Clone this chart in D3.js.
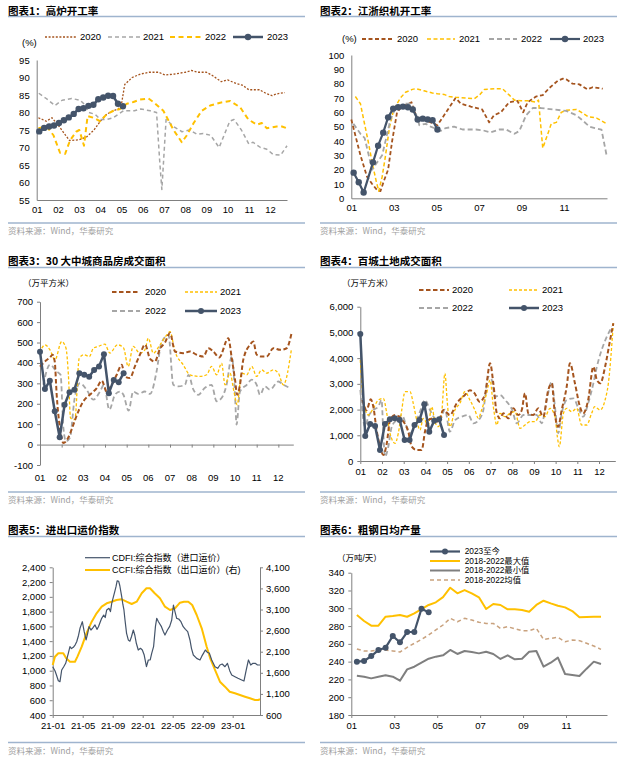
<!DOCTYPE html>
<html><head><meta charset="utf-8">
<script src="https://cdn.jsdelivr.net/npm/d3@7"></script>
<style>body{margin:0;background:#fff}svg{display:block}</style>
</head><body><script>
// ---------------- DATA ----------------
// Panel 1: blast furnace utilisation (%), [month position (0 = Jan 1), value]
const bf2020 = [[0.08,78.5],[0.45,77.5],[0.72,78.5],[1.0,76.5],[1.3,74],[1.55,72],[2.0,72.2],[2.35,73],[2.7,75],[3.0,77.5],[3.3,79.5],[3.6,80.5],[3.85,81],[4.0,82.5],[4.15,88],[4.5,90],[4.9,91],[5.3,91.5],[5.75,91.5],[6.05,90.7],[6.5,91],[7.0,91.5],[7.3,92],[7.6,91.5],[8.0,91.5],[8.3,90.5],[8.7,88.8],[9.0,89.3],[9.4,88.3],[9.7,87.8],[10.0,86.5],[10.5,86.5],[10.8,85.5],[11.1,84.8],[11.3,85.3],[11.7,85.7]];
const bf2021 = [[0.1,85.5],[0.45,84],[0.86,82],[1.2,83.5],[1.65,84],[2.05,83.5],[2.3,82],[2.45,80],[2.75,79.5],[3.0,78],[3.3,78],[3.6,78.5],[3.85,79.5],[4.1,80.5],[4.6,80.5],[4.9,81],[5.35,80.5],[5.65,80],[5.8,66],[5.9,58],[6.0,68],[6.1,78],[6.45,76],[6.85,74.5],[7.2,75],[7.55,73.8],[7.85,74],[8.2,73.5],[8.6,70],[9.1,77.5],[9.3,78],[9.65,75],[10.0,71],[10.2,71.5],[10.55,70],[10.85,69.5],[11.15,68],[11.5,67.8],[11.8,70.5]];
const bf2022 = [[0.08,75.5],[0.47,76],[0.79,73.5],[1.1,68.5],[1.34,68.2],[1.57,72],[1.86,74.5],[2.01,75],[2.23,70.5],[2.4,79],[2.67,78.5],[2.99,77.5],[3.3,79.5],[3.62,80.5],[3.93,81],[4.25,82.5],[4.56,83],[4.87,83.7],[5.27,84],[5.5,83],[5.97,80.5],[6.45,75],[6.84,71.5],[7.08,73.5],[7.4,77],[7.78,80.5],[8.18,82],[8.65,82.8],[9.12,83.3],[9.59,81.5],[9.98,78],[10.38,76.5],[10.61,77],[10.85,75.5],[11.32,76],[11.56,76],[11.79,75.5]];
const bf2023 = [74.6,75.6,76.0,76.3,77.0,77.8,78.6,79.6,81.0,81.2,81.9,82.2,83.8,84.3,84.8,84.7,82.5,81.8];
const bf2023Start = 0.12, weekStep = 0.232;
const monthLabels = ["01","02","03","04","05","06","07","08","09","10","11","12"];

// Panel 2: Jiangsu-Zhejiang loom utilisation (%)
const loom2020 = [[0,55],[0.43,30],[0.74,15],[0.98,10],[1.2,6],[1.37,5],[1.53,12],[1.73,20],[1.92,40],[2.15,60],[2.32,63],[2.55,65],[2.7,66],[2.83,67],[3.1,55],[3.42,55],[3.73,53],[4.05,51],[4.9,70],[5.15,66],[5.62,64],[6.15,62],[6.48,53],[6.71,58],[7.03,60],[7.42,67],[7.81,68],[8.08,60],[8.29,67],[8.68,71],[9.0,72],[9.31,77],[9.7,82],[9.95,83.5],[10.1,83],[10.4,80],[10.72,79.5],[11.1,76],[11.35,77.5],[11.82,76.5]];
const loom2021 = [[0.19,71],[0.43,66],[0.58,55],[0.79,40],[0.98,25],[1.17,12],[1.29,5],[1.45,15],[1.61,30],[1.8,50],[2.0,62],[2.31,70],[2.55,74],[2.87,76],[3.02,76.5],[3.42,75],[3.81,73.5],[4.05,73],[4.36,72.5],[4.6,71],[4.91,70.5],[5.39,70],[5.78,69.5],[6.02,72],[6.25,76],[6.72,76.5],[7.1,76.5],[7.43,72],[7.67,68.5],[7.98,68],[8.37,68],[8.68,67],[8.8,68.5],[9.0,35],[9.24,45],[9.4,52],[9.64,53],[9.87,60],[10.1,61.5],[10.58,62],[10.82,60],[11.13,57],[11.53,56],[12.0,52]];
const loom2022 = [[0.1,52],[0.43,45],[0.63,42],[0.82,30],[0.98,20],[1.21,25],[1.45,30],[1.64,42],[1.84,55],[2.05,62],[2.31,64],[2.55,66],[2.8,66],[3.02,60],[3.2,51],[3.5,52],[3.73,50],[4.05,48],[4.2,47],[4.44,49],[4.83,50],[5.23,48],[5.86,48],[6.17,47.5],[6.55,46],[6.95,48],[7.27,48],[7.67,45],[7.9,47],[8.22,58],[8.53,63],[8.92,63],[9.48,62],[10.1,61],[10.58,58],[10.82,55],[11.2,50],[11.45,49],[11.76,48],[12.0,30]];
const loom2023 = [[0.11,17.9],[0.35,11.2],[0.58,4],[1.02,25.1],[1.26,36.7],[1.5,45.8],[1.73,56.5],[1.97,62.6],[2.2,63.5],[2.43,64],[2.66,63.5],[2.89,62],[3.12,55],[3.36,55.6],[3.59,55],[3.82,54.5],[4.05,48]];
const oddMonthLabels = ["01","03","05","07","09","11"];

// Panel 3: 30 cities commercial housing sales area (10k m2)
const house2020 = [[0,382],[0.23,407],[0.46,427],[0.58,440],[0.68,407],[0.77,244],[0.92,81],[1.08,8],[1.3,33],[1.54,98],[1.77,163],[2.0,212],[2.3,244],[2.62,277],[2.85,313],[3.08,260],[3.31,293],[3.54,342],[3.77,391],[3.92,334],[4.15,326],[4.38,383],[4.61,440],[4.85,490],[5.08,420],[5.3,407],[5.54,470],[5.77,500],[6.0,547],[6.23,456],[6.61,448],[6.92,456],[7.23,440],[7.54,431],[7.77,472],[8.0,456],[8.27,427],[8.69,521],[8.85,423],[9.0,318],[9.1,244],[9.23,293],[9.38,415],[9.69,489],[9.84,505],[10.0,440],[10.23,431],[10.46,431],[10.77,472],[11.08,464],[11.38,472],[11.61,546]];
const house2021 = [[0.08,472],[0.23,489],[0.46,464],[0.69,415],[1.0,505],[1.2,472],[1.31,342],[1.41,130],[1.61,122],[1.81,423],[2.03,440],[2.28,431],[2.46,472],[2.69,481],[2.99,492],[3.23,448],[3.57,489],[3.85,475],[4.07,383],[4.3,481],[4.61,448],[4.84,464],[5.0,521],[5.23,448],[5.54,489],[5.85,537],[6.0,553],[6.23,456],[6.61,391],[6.92,342],[7.38,334],[7.69,342],[7.92,383],[8.15,342],[8.38,399],[8.54,293],[8.77,350],[8.95,260],[9.1,195],[9.3,350],[9.54,342],[9.77,383],[10.0,334],[10.23,366],[10.46,350],[10.77,366],[11.0,350],[11.23,293],[11.61,472]];
const house2022 = [[0.15,293],[0.46,391],[0.77,358],[0.95,342],[1.08,81],[1.2,16],[1.38,33],[1.6,228],[1.85,301],[2.15,269],[2.46,220],[2.77,260],[2.95,293],[3.2,171],[3.46,244],[3.69,260],[3.85,244],[4.09,166],[4.3,260],[4.54,248],[4.84,260],[5.08,248],[5.38,358],[5.6,497],[5.93,537],[6.15,293],[6.38,285],[6.69,293],[6.85,342],[7.08,269],[7.3,244],[7.6,277],[7.92,293],[8.15,212],[8.38,228],[8.61,293],[8.85,431],[9.0,244],[9.07,98],[9.23,260],[9.54,293],[9.77,318],[10.0,293],[10.15,244],[10.38,285],[10.62,269],[11.0,309],[11.23,293],[11.54,277]];
const house2023 = [455,272,313,163,36,195,257,269,350,342,332,366,383,443,252,317,306,350];
const house2023Start = 0, house2023Step = 0.227;

// Panel 4: 100 cities land transaction area (10k m2)
const land2020 = [[0.1,2372],[0.29,1983],[0.48,2398],[0.6,2112],[0.75,1205],[0.91,556],[1.06,233],[1.22,688],[1.37,1594],[1.6,1788],[1.99,1528],[2.21,1140],[2.37,556],[2.6,428],[2.83,428],[2.98,1140],[3.13,1594],[3.36,1659],[3.59,1528],[3.83,1983],[4.13,1788],[4.44,2243],[4.82,2566],[5.05,2750],[5.25,2650],[5.5,2300],[5.75,2600],[5.98,3798],[6.13,3021],[6.29,1855],[6.44,1659],[6.59,1855],[6.82,1659],[7.05,2049],[7.28,1788],[7.44,1983],[7.59,2632],[7.74,1855],[7.97,1788],[8.2,2049],[8.43,1722],[8.66,2760],[8.82,3021],[8.97,1788],[9.12,1334],[9.28,1983],[9.51,2889],[9.66,3798],[9.89,3021],[10.12,2112],[10.27,1855],[10.5,2372],[10.74,3666],[10.9,3149],[11.06,3021],[11.28,3666],[11.51,4704],[11.66,5354]];
const land2021 = [[0,3927],[0.14,2372],[0.37,1788],[0.6,2049],[0.83,2372],[1.06,2437],[1.22,1855],[1.37,1077],[1.6,688],[1.75,1077],[1.91,1983],[2.06,2695],[2.29,2695],[2.44,2243],[2.6,1594],[2.75,1205],[2.9,1659],[3.13,1400],[3.29,2112],[3.44,1528],[3.6,1334],[3.75,1855],[3.9,3410],[4.0,2372],[4.13,1334],[4.36,1983],[4.59,2243],[4.82,2695],[5.05,2372],[5.28,1983],[5.44,1659],[5.59,1983],[5.82,2632],[5.98,3149],[6.13,2112],[6.29,1400],[6.44,1855],[6.67,1722],[6.9,1855],[7.13,1918],[7.36,1270],[7.59,1400],[7.82,1528],[8.05,1528],[8.28,1788],[8.51,1722],[8.74,2049],[8.97,1722],[9.08,945],[9.17,556],[9.36,1855],[9.51,2049],[9.74,1918],[9.97,2049],[10.2,1400],[10.43,1400],[10.66,1855],[10.8,2112],[11.05,1983],[11.28,2372],[11.43,3021],[11.66,5354]];
const land2022 = [[0,2760],[0.22,1334],[0.37,1722],[0.6,1983],[0.83,2112],[0.98,2372],[1.06,1077],[1.14,167],[1.29,556],[1.45,1334],[1.68,1594],[1.91,1788],[2.14,1334],[2.29,1077],[2.52,1400],[2.75,1918],[2.98,2372],[3.21,1983],[3.44,1659],[3.67,1594],[3.9,2000],[4.13,1140],[4.37,1594],[4.67,1724],[4.98,1788],[5.21,1464],[5.52,1659],[5.67,1983],[5.9,3277],[6.06,3149],[6.2,2500],[6.44,2566],[6.67,2372],[7.0,1983],[7.21,1466],[7.52,1788],[7.82,1788],[8.13,1788],[8.36,1466],[8.59,2372],[8.82,3083],[8.97,2112],[9.12,1077],[9.28,1855],[9.51,2372],[9.82,2437],[10.05,2049],[10.27,1722],[10.5,2243],[10.74,3021],[10.9,3666],[11.12,4315],[11.36,4833],[11.59,5221]];
const land2023 = [4938,972,1438,1361,428,1438,1620,1659,1594,816,816,1400,1594,2204,1140,1568,1620,1011];
const land2023Start = 0, land2023Step = 0.227;

// Panel 5: freight indices, [months since 2021-01, value]
const cdfi = [[0,1054],[0.3,1000],[0.5,942],[0.75,864],[0.97,851],[1.2,1009],[1.45,1050],[1.73,1100],[2.08,1235],[2.3,1325],[2.5,1300],[2.75,1317],[3.0,1350],[3.2,1392],[3.45,1480],[3.64,1574],[3.8,1620],[3.95,1663],[4.2,1528],[4.45,1416],[4.65,1500],[4.84,1596],[5.1,1551],[5.35,1580],[5.64,1619],[5.9,1560],[6.1,1596],[6.3,1650],[6.53,1709],[6.8,1754],[7.0,1720],[7.2,1822],[7.5,1845],[7.7,1800],[7.87,1912],[8.1,2002],[8.3,2080],[8.44,2137],[8.6,2218],[8.8,2210],[8.95,2150],[9.2,2002],[9.35,1900],[9.5,1822],[9.64,1686],[9.85,1506],[10.08,1416],[10.3,1400],[10.5,1460],[10.75,1551],[10.95,1480],[11.15,1371],[11.41,1280],[11.7,1303],[11.95,1280],[12.2,1212],[12.5,1054],[12.75,1145],[13.0,1145],[13.2,1235],[13.45,1325],[13.7,1600],[13.87,1709],[14.1,1663],[14.5,1596],[14.75,1530],[14.97,1483],[15.3,1551],[15.6,1600],[15.87,1686],[16.1,1889],[16.3,1800],[16.53,1709],[16.8,1700],[17.1,1663],[17.4,1596],[17.7,1560],[18.0,1528],[18.3,1416],[18.5,1303],[18.75,1212],[19.2,1167],[19.64,1145],[19.9,1200],[20.1,1235],[20.35,1280],[20.6,1250],[20.9,1235],[21.2,1145],[21.64,1054],[22.0,1032],[22.3,1077],[22.6,1090],[22.97,1054],[23.3,1100],[23.6,1000],[23.87,942],[24.3,919],[24.7,897],[25.2,874],[25.5,860],[25.8,1009],[26.1,1145],[26.4,1077],[26.7,1100],[27.0,1100],[27.3,1077],[27.64,1077]];
const ccfi = [[0,1785],[0.3,1982],[0.75,2062],[1.41,2062],[1.8,1944],[2.3,1863],[2.97,1863],[3.3,1982],[3.87,2219],[4.5,2536],[5.2,2811],[5.85,3010],[6.53,3167],[7.2,3247],[7.87,3285],[8.5,3326],[9.2,3342],[9.85,3285],[10.53,3231],[11.2,3285],[11.87,3484],[12.5,3603],[12.97,3603],[13.6,3484],[14.3,3366],[14.97,3167],[15.64,3088],[16.3,3128],[16.97,3262],[17.5,3285],[18.08,3285],[18.6,3207],[19.2,2970],[19.87,2655],[20.53,2219],[21.0,1944],[21.64,1667],[22.3,1389],[22.97,1271],[23.6,1152],[24.3,1114],[24.97,1074],[25.64,1034],[26.3,996],[26.97,955],[27.4,955],[27.64,972]];
const freightTickMonths = [0,4,8,12,16,20,24];
const freightTickLabels = ["21-01","21-05","21-09","22-01","22-05","22-09","23-01"];

// Panel 6: crude steel daily output (10k t/day), ten-day periods
const steel2023 = [240,240.7,246.3,253,255.7,268.8,261.7,273.3,273.3,299.5,295.4];
const steelMax = [292.4,285.7,280.4,280.4,290.5,291.3,292.4,290.5,294.3,299,303.7,306.7,312.6,323.1,316.8,320.5,316.8,312.3,299.2,304.8,303.7,298.8,298.8,298,296.2,303.7,308.5,305.5,302.9,301,296.9,289.8,290.2,290.5,290.5];
const steelMin = [224.2,223.1,221.2,223.1,224.6,223.1,218.6,231.3,234.3,238.8,243.3,245.6,247.1,253.1,248.6,252,250.8,249.3,251.2,248.6,243,247.1,242.6,243.3,251.2,252,234.3,238.8,244.5,226.1,225,223.8,232.1,240,237.3];
const steelMean = [254.2,252,252,253,253,252,250.8,256,260.6,265,270,275.6,281.2,288.7,284.9,288.7,286.8,284.2,283,283,277.4,279.3,277,274.8,274.8,277.4,265,266.2,267.3,262.4,264.3,263.6,260.6,257.6,253.8];
const steelStart = 0.26, steelStep = 0.3344;

// ---------------- DRAWING ----------------
const C = {brown:"#A5541E", gray:"#A6A6A6", yellow:"#FFC000", navy:"#44546A", ax:"#808080"};
const LAT = '"Liberation Sans", Arial, "Noto Sans CJK SC", sans-serif';
const CJK = '"Noto Sans CJK SC", sans-serif';
const svg = d3.select("body").append("svg").attr("width",625).attr("height",760);

const seq = (start, step, vals) => vals.map((v,i)=>[start+i*step, v]);

function frame(x0, x1, titleY, topLine, botLine, title){
  svg.append("text").attr("x",x0).attr("y",titleY).text(title)
     .attr("font-family",CJK).attr("font-weight","bold").attr("font-size",10.5).attr("fill","#000");
  svg.append("line").attr("x1",x0).attr("x2",x1).attr("y1",topLine).attr("y2",topLine).attr("stroke","#9FB4CE").attr("stroke-width",1.5);
  svg.append("line").attr("x1",x0).attr("x2",x1).attr("y1",botLine).attr("y2",botLine).attr("stroke","#9FB4CE").attr("stroke-width",1.5);
  svg.append("text").attr("x",x0).attr("y",botLine+11).text("资料来源：Wind，华泰研究")
     .attr("font-family",CJK).attr("font-size",8.5).attr("fill","#A0A0A0");
}
function styleAxis(g, fs){
  g.select(".domain").attr("stroke",C.ax);
  g.selectAll(".tick line").attr("stroke",C.ax);
  g.selectAll("text").attr("font-family",LAT).attr("font-size",fs||9.5).attr("fill","#000");
}
function yLeft(xp, y, ticks, fmt, ts){
  const g = svg.append("g").attr("transform",`translate(${xp},0)`)
    .call(d3.axisLeft(y).tickValues(ticks).tickFormat(fmt||(d=>d)).tickSize(ts==null?3:ts).tickSizeOuter(0).tickPadding(ts===0?7:4));
  styleAxis(g); return g;
}
function yRight(xp, y, ticks, fmt){
  const g = svg.append("g").attr("transform",`translate(${xp},0)`)
    .call(d3.axisRight(y).tickValues(ticks).tickFormat(fmt).tickSize(3).tickSizeOuter(0).tickPadding(3));
  styleAxis(g); return g;
}
function xBottom(yp, x, ticks, labels, ts, pad){
  const g = svg.append("g").attr("transform",`translate(0,${yp})`)
    .call(d3.axisBottom(x).tickValues(ticks).tickFormat((d,i)=>labels?labels[i]:"").tickSize(ts==null?3:ts).tickSizeOuter(0).tickPadding(pad==null?4:pad));
  styleAxis(g); return g;
}
function series(x, y, data, st){
  const line = d3.line().x(d=>x(d[0])).y(d=>y(d[1])).curve(st.curve||d3.curveLinear);
  svg.append("path").datum(data).attr("d",line).attr("fill","none")
    .attr("stroke",st.color).attr("stroke-width",st.w).attr("stroke-dasharray",st.dash||null)
    .attr("stroke-linejoin","round");
  if(st.marker){
    svg.append("g").selectAll("circle").data(data).join("circle")
      .attr("cx",d=>x(d[0])).attr("cy",d=>y(d[1])).attr("r",st.marker).attr("fill",st.color);
  }
}
function legendItem(x1, x2, yy, text, st, tx, fs){
  svg.append("line").attr("x1",x1).attr("x2",x2).attr("y1",yy).attr("y2",yy)
    .attr("stroke",st.color).attr("stroke-width",st.w).attr("stroke-dasharray",st.dash||null);
  if(st.marker) svg.append("circle").attr("cx",(x1+x2)/2).attr("cy",yy).attr("r",st.marker).attr("fill",st.color);
  svg.append("text").attr("x",tx).attr("y",yy).attr("dy","0.35em").text(text)
    .attr("font-family",LAT).attr("font-size",fs||9.5).attr("fill","#000");
}
function unitText(x, yy, t, fs){
  svg.append("text").attr("x",x).attr("y",yy).attr("dy","0.35em").text(t)
    .attr("font-family",LAT).attr("font-size",fs||9.5).attr("fill","#000");
}

// ===== Panel 1 =====
frame(8,305,15,16.5,223,"图表1：高炉开工率");
{
  const x = d3.scaleLinear().domain([0,11.8]).range([36.7,287]);
  const y = d3.scaleLinear().domain([55,95]).range([200,60]);
  yLeft(36.7, y, d3.range(55,96,5), null, 0);
  xBottom(200, x, d3.range(0,12), monthLabels, 0, 6);
  const s20={color:C.brown,w:1.3,dash:"2,1.6"}, s21={color:C.gray,w:1.5,dash:"4,3"}, s22={color:C.yellow,w:2,dash:"5,3.5"}, s23={color:C.navy,w:2.5,marker:3.2};
  series(x,y,bf2020,s20); series(x,y,bf2021,s21); series(x,y,bf2022,s22);
  series(x,y,seq(bf2023Start,weekStep,bf2023),s23);
  legendItem(45,77,37,"2020",s20,80); legendItem(108,140,37,"2021",s21,143);
  legendItem(170,203,37,"2022",s22,205); legendItem(233,263,37,"2023",s23,267);
  unitText(22,43,"(%)");
}

// ===== Panel 2 =====
frame(320,617,15,16.5,223,"图表2：江浙织机开工率");
{
  const x = d3.scaleLinear().domain([0,12.02]).range([351.3,607]);
  const y = d3.scaleLinear().domain([0,100]).range([198.3,55]);
  yLeft(351.3, y, d3.range(0,101,10), null, 0);
  xBottom(198.3, x, [0,2,4,6,8,10], oddMonthLabels, 0, 6);
  const s20={color:C.brown,w:1.8,dash:"4,2.5"}, s21={color:C.yellow,w:1.5,dash:"4,2.5"}, s22={color:C.gray,w:1.8,dash:"5,3"}, s23={color:C.navy,w:2.2,marker:3.2};
  series(x,y,loom2020,s20); series(x,y,loom2021,s21); series(x,y,loom2022,s22); series(x,y,loom2023,s23);
  unitText(342,39,"(%)");
  legendItem(362,394,39,"2020",s20,397); legendItem(427,455,39,"2021",s21,459);
  legendItem(489,517,39,"2022",s22,521); legendItem(550,580,39,"2023",s23,583);
}

// ===== Panel 3 =====
frame(8,305,265,267.5,492,"图表3：30 大中城商品房成交面积");
{
  const x = d3.scaleLinear().domain([0,11.69]).range([40,293.3]);
  const y = d3.scaleLinear().domain([-100,700]).range([465,301.7]);
  yLeft(40, y, d3.range(-100,701,100), null, 3);
  xBottom(y(0), x, d3.range(0,12), null, 3);
  svg.append("g").selectAll("text").data(monthLabels).join("text")
    .attr("x",(d,i)=>x(i)).attr("y",478).attr("dy","0.35em").attr("text-anchor","middle").text(d=>d)
    .attr("font-family",LAT).attr("font-size",9.5);
  const cv = d3.curveMonotoneX;
  const s20={color:C.brown,w:2,dash:"4.5,2.5",curve:cv}, s21={color:C.yellow,w:1.3,dash:"3,2",curve:cv}, s22={color:C.gray,w:1.8,dash:"5,3",curve:cv}, s23={color:C.navy,w:2.5,marker:3};
  series(x,y,house2022,s22); series(x,y,house2021,s21); series(x,y,house2020,s20);
  series(x,y,seq(house2023Start,house2023Step,house2023),s23);
  unitText(23,283,"（万平方米）",8.5);
  legendItem(112,140,292,"2020",s20,145); legendItem(185,217,292,"2021",s21,220);
  legendItem(112,140,311,"2022",s22,145); legendItem(185,217,311,"2023",s23,220);
}

// ===== Panel 4 =====
frame(320,617,265,267.5,492,"图表4：百城土地成交面积");
{
  const x = d3.scaleLinear().domain([0,11.75]).range([360.3,615.3]);
  const y = d3.scaleLinear().domain([0,6000]).range([461,306.7]);
  yLeft(360.3, y, d3.range(0,6001,1000), d3.format(","), 3);
  xBottom(461, x, d3.range(0,12), monthLabels, 3, 4);
  const cv = d3.curveMonotoneX;
  const s20={color:C.brown,w:2,dash:"4.5,2.5",curve:cv}, s21={color:C.yellow,w:1.3,dash:"3,2",curve:cv}, s22={color:C.gray,w:1.8,dash:"5,3",curve:cv}, s23={color:C.navy,w:2.5,marker:3};
  series(x,y,land2022,s22); series(x,y,land2021,s21); series(x,y,land2020,s20);
  series(x,y,seq(land2023Start,land2023Step,land2023),s23);
  unitText(342,283,"（万平方米）",8.5);
  legendItem(419,449,290,"2020",s20,452); legendItem(509,539,290,"2021",s21,542);
  legendItem(419,449,308,"2022",s22,452); legendItem(509,539,308,"2023",s23,542);
}

// ===== Panel 5 =====
frame(8,305,534,536.5,742.5,"图表5：进出口运价指数");
{
  const x = d3.scaleLinear().domain([0,27.64]).range([52.7,260]);
  const yl = d3.scaleLinear().domain([400,2400]).range([715,567.3]);
  const yr = d3.scaleLinear().domain([600,4100]).range([715,567.3]);
  yLeft(52.7, yl, d3.range(400,2401,200), d3.format(","), 3);
  yRight(260, yr, d3.range(600,4101,500), d3.format(","));
  xBottom(715, x, freightTickMonths, freightTickLabels, 3, 4);
  const sc={color:C.navy,w:1.2}, sy={color:C.yellow,w:2};
  series(x,yr,ccfi,sy); series(x,yl,cdfi,sc);
  legendItem(85,110,557.7,"CDFI:综合指数（进口运价）",sc,112,9);
  legendItem(85,110,570,"CCFI:综合指数（出口运价）(右)",sy,112,9);
}

// ===== Panel 6 =====
frame(320,617,534,536.5,742.5,"图表6：粗钢日均产量");
{
  const x = d3.scaleLinear().domain([0,11.91]).range([351.3,607]);
  const y = d3.scaleLinear().domain([180,340]).range([715,572.7]);
  yLeft(351.3, y, d3.range(180,341,20), null, 3);
  xBottom(715, x, [0,2,4,6,8,10], oddMonthLabels, 3, 4);
  const sMax={color:C.yellow,w:2}, sMin={color:"#7F7F7F",w:2}, sMean={color:"#C9A27E",w:1.5,dash:"4,3"}, s23={color:C.navy,w:2.2,marker:3};
  series(x,y,seq(steelStart,steelStep,steelMean),sMean);
  series(x,y,seq(steelStart,steelStep,steelMin),sMin);
  series(x,y,seq(steelStart,steelStep,steelMax),sMax);
  series(x,y,seq(steelStart,steelStep,steel2023),s23);
  unitText(337,558,"（万吨/天）",8.5);
  legendItem(430,460,551.5,"2023至今",s23,464.7,8.3);
  legendItem(430,460,561,"2018-2022最大值",sMax,464.7,8.3);
  legendItem(430,460,570.5,"2018-2022最小值",sMin,464.7,8.3);
  legendItem(430,460,580,"2018-2022均值",sMean,464.7,8.3);
}
</script></body></html>
